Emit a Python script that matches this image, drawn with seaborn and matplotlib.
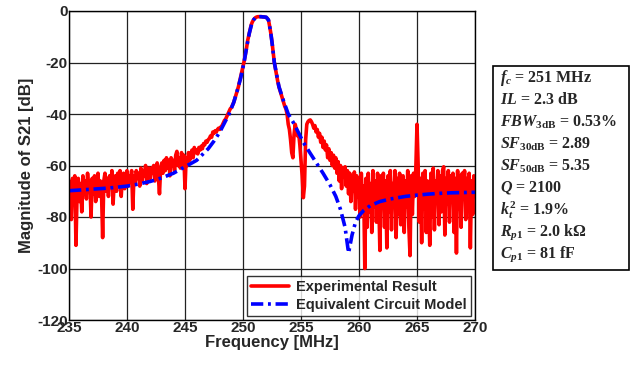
import numpy as np
import matplotlib
matplotlib.use('Agg')
import matplotlib.pyplot as plt
from matplotlib.patches import Rectangle
import seaborn as sns

# ---- data ----
# equivalent circuit model (frequency MHz, S21 dB)
model_freq = [235.0, 236, 237, 238, 239, 240, 241, 242, 243, 244, 245, 246, 247, 247.5,
              248.0, 248.4, 248.8, 249.2, 249.5, 249.8, 250.09, 250.3, 250.54, 250.75,
              250.9, 251.1, 251.5, 252.0, 252.2, 252.4, 252.55, 252.7, 253.1, 253.5,
              253.9, 254.3, 254.6, 255.2, 255.8, 256.4, 256.9, 257.5, 258.0, 258.4,
              258.8, 259.1, 259.4, 259.7, 260.0, 260.4, 261.0, 261.8, 262.7, 264, 265,
              266, 267, 268, 269, 270]
model_db = [-69.8, -69.5, -69.2, -68.9, -68.5, -68.0, -67.2, -66.2, -64.8, -63.0, -60.5,
            -58.0, -53.5, -50.5, -47.0, -43.5, -40.0, -35.5, -31.0, -26.0, -20.0, -14.5,
            -8.7, -5.0, -3.5, -2.4, -2.2, -2.4, -3.5, -8.7, -14.0, -20.0, -29.4, -35.0,
            -40.0, -43.0, -45.6, -51.0, -55.3, -59.5, -63.0, -67.5, -72.0, -77.0, -84.0,
            -94.0, -87.0, -82.0, -79.5, -77.5, -75.5, -74.0, -73.0, -72.0, -71.5, -71.1,
            -70.8, -70.6, -70.5, -70.4]

# measured trace, one value every 0.1 MHz
red_left = [  # 235.0 .. 248.9
    -66, -72, -81, -65, -69, -64, -91, -70, -65, -74,
    -67, -78, -64, -71, -66, -73, -63, -69, -66, -80,
    -65, -71, -64, -74, -67, -63, -72, -66, -70, -88,
    -66, -63, -70, -65, -72, -64, -68, -62, -75, -66,
    -64, -70, -63, -67, -62, -72, -65, -63, -69, -64,
    -62, -68, -64, -66, -62, -77, -64, -67, -62, -65,
    -63, -68, -61, -66, -62, -64, -60, -67, -63, -61,
    -65, -61, -63, -60, -66, -62, -59, -64, -71, -61,
    -59, -63, -58, -62, -57, -61, -58, -64, -57, -60,
    -58, -62, -56, -54.5, -60, -57, -61, -55, -59, -56,
    -69, -57, -60, -55, -58, -56, -54, -57, -53, -55,
    -54, -55.5, -53, -54, -52.5, -53.5, -51.5, -52, -50.5, -51,
    -50, -49.5, -48.5, -49, -47, -47.5, -46.5, -47, -46, -45.5,
    -46, -45, -44.5, -43.5, -42.5, -42, -41, -40, -39, -38,
]
red_peak = [  # 249.0 .. 255.9
    -37.5, -36.5, -35.5, -34, -32.5, -31, -29.5, -27.5, -25.5, -23.5,
    -21.5, -19.5, -17, -14.5, -11.5, -9.5, -7.5, -5.5, -4.3, -3.5,
    -2.9, -2.5, -2.3, -2.2, -2.2, -2.2, -2.2, -2.3, -2.3, -2.4,
    -2.5, -2.9, -3.6, -6, -8.7, -12, -16, -20, -22.5, -25,
    -27.5, -29.5, -31, -32.5, -34, -35.5, -37, -38, -40, -44,
    -46, -50, -55, -57, -48, -44, -46, -48.5, -47.5, -52,
    -58, -64, -72.5, -68, -50, -44, -43, -42.5, -42.3, -43,
]
red_right = [  # 256.0 .. 270.0
    -44, -45.5, -44.5, -47, -46, -49, -47.5, -51, -49, -53,
    -50.5, -54, -52, -57, -53.5, -58, -55, -60, -56, -61,
    -57, -63, -58.5, -66, -60, -69, -61, -64, -60.5, -68,
    -62, -71, -63, -74, -65, -70, -62.5, -77, -64, -72,
    -66, -80, -63, -75, -68, -100, -65, -84, -63, -78,
    -67, -86, -62, -76, -66, -82, -63, -72, -93, -64,
    -75, -63, -84, -66, -92, -64, -78, -62, -85, -67,
    -73, -62, -88, -65, -79, -63, -83, -68, -64, -86,
    -66, -76, -62, -84, -95, -64, -79, -63, -72, -61,
    -44, -60, -82, -65, -90, -63, -77, -62, -86, -66,
    -74, -91, -63, -80, -61, -85, -66, -72, -62, -83,
    -64, -78, -62, -60.5, -87, -65, -75, -62, -82, -64,
    -71, -63, -86, -65, -94, -62, -77, -64, -84, -63,
    -70, -62, -81, -65, -76, -63, -92, -66, -79, -64,
    -70,
]
meas_db = red_left + red_peak + red_right
meas_freq = np.round(np.arange(235.0, 270.05, 0.1), 1)

x_ticks = [235, 240, 245, 250, 255, 260, 265, 270]
y_ticks = [0, -20, -40, -60, -80, -100, -120]

params = [r"$f_c$ = 251 MHz",
          r"$IL$ = 2.3 dB",
          r"$FBW_{\mathrm{3dB}}$ = 0.53%",
          r"$SF_{\mathrm{30dB}}$ = 2.89",
          r"$SF_{\mathrm{50dB}}$ = 5.35",
          r"$Q$ = 2100",
          r"$k_t^{\mathrm{2}}$ = 1.9%",
          r"$R_{p\mathrm{1}}$ = 2.0 kΩ",
          r"$C_{p\mathrm{1}}$ = 81 fF"]

# ---- style ----
sns.set_style('whitegrid', {'grid.color': '#222222', 'axes.edgecolor': 'black',
                            'xtick.direction': 'in', 'ytick.direction': 'in'})
plt.rcParams['font.family'] = ['Liberation Sans', 'DejaVu Sans']
plt.rcParams['font.weight'] = 'bold'
plt.rcParams['axes.unicode_minus'] = False
plt.rcParams['mathtext.fontset'] = 'custom'
plt.rcParams['mathtext.rm'] = 'Liberation Serif:bold'
plt.rcParams['mathtext.it'] = 'Liberation Serif:italic:bold'
plt.rcParams['mathtext.bf'] = 'Liberation Serif:bold'

fig = plt.figure(figsize=(6.32, 3.67), dpi=100)
ax = fig.add_axes([69 / 632, 1 - 320 / 367, 406 / 632, 309 / 367])

sns.lineplot(x=meas_freq, y=meas_db, ax=ax, color='#ff0000', lw=2.6,
             estimator=None, sort=False, label='Experimental Result')
sns.lineplot(x=model_freq, y=model_db, ax=ax, color='#0000ff', lw=2.6,
             estimator=None, sort=False, linestyle=(0, (3.4, 1.3, 0.8, 1.3)),
             label='Equivalent Circuit Model')

ax.set_xlim(235, 270)
ax.set_ylim(-120, 0)
ax.set_xticks(x_ticks)
ax.set_yticks(y_ticks)
ax.grid(True, color='#222222', lw=0.9)
for s in ax.spines.values():
    s.set_color('black')
    s.set_linewidth(1.0)
ax.tick_params(labelsize=11, pad=1, length=3, color='black')
for lab in ax.get_xticklabels() + ax.get_yticklabels():
    lab.set_fontweight('bold')
ax.set_xlabel('Frequency [MHz]', fontsize=12, fontweight='bold', labelpad=0)
ax.set_ylabel('Magnitude of S21 [dB]', fontsize=12, fontweight='bold', labelpad=2)

leg = ax.legend(loc='lower right', fontsize=10.5, frameon=True, fancybox=False,
                borderaxespad=0.25, handlelength=2.6, borderpad=0.3,
                labelspacing=0.25, handletextpad=0.5)
leg.get_frame().set_edgecolor('black')
leg.get_frame().set_linewidth(1.0)
for t in leg.get_texts():
    t.set_fontweight('bold')

# parameter box on the right
fig.patches.append(Rectangle((493 / 632, 1 - 270 / 367), 136 / 632, 204 / 367,
                             transform=fig.transFigure, fill=False,
                             edgecolor='black', lw=1.2))
for i, line in enumerate(params):
    fig.text(500 / 632, 1 - (78 + 22 * i) / 367, line, fontsize=11.5,
             family='Liberation Serif', fontweight='bold', va='center', ha='left')

fig.savefig('out.png', dpi=100)
